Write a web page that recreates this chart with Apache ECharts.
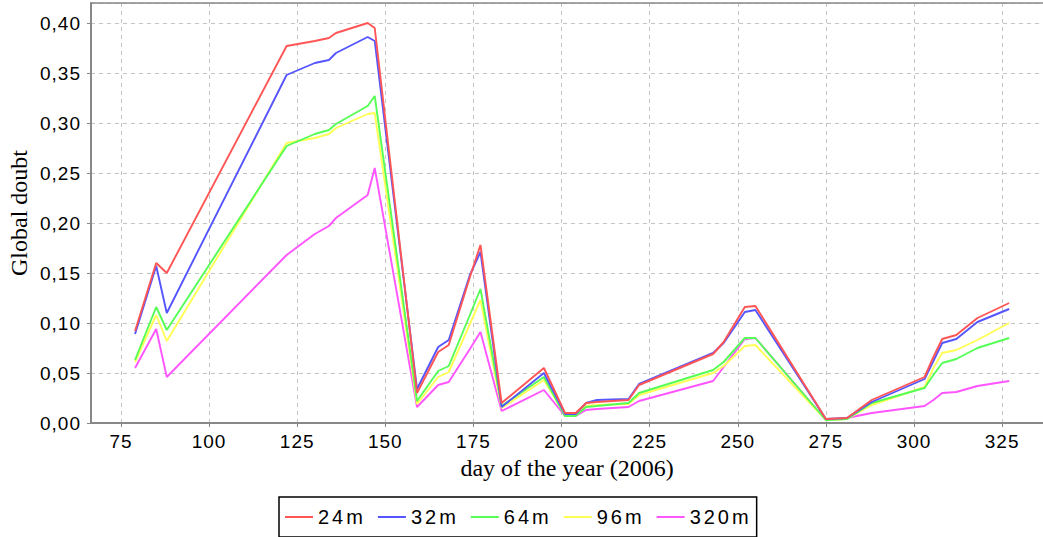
<!DOCTYPE html>
<html>
<head>
<meta charset="utf-8">
<script src="https://cdn.jsdelivr.net/npm/echarts@6/dist/echarts.min.js"></script>
<style>
  html, body { margin: 0; padding: 0; background: #ffffff; }
  #chart { width: 1043px; height: 537px; }
  /* slightly tracked sans-serif lettering for ticks and legend */
  #chart svg text[style*="19px"] { letter-spacing: 1px; }
  #chart svg text[style*="20px"] { letter-spacing: 3px; }
</style>
</head>
<body>
<div id="chart"></div>
<script>
// Sampling days (day of the year, 2006)
const days = [79, 85, 88, 122, 130, 134, 136, 145, 147, 159, 165, 168, 174, 177, 183, 195,
  201, 204, 207, 210, 219, 222, 243, 246, 252, 255, 275, 281, 288, 303, 305.5, 308, 312, 318, 327];

// Global doubt per resolution
const doubt24 = [0.092, 0.160, 0.150, 0.377, 0.382, 0.385, 0.390, 0.400, 0.395, 0.030, 0.071, 0.078, 0.146, 0.178, 0.020, 0.055,
  0.010, 0.010, 0.020, 0.021, 0.023, 0.038, 0.069, 0.081, 0.116, 0.117, 0.004, 0.005, 0.023, 0.046, 0.066, 0.084, 0.088, 0.105, 0.120];
const doubt32 = [0.089, 0.157, 0.110, 0.348, 0.360, 0.363, 0.370, 0.386, 0.382, 0.034, 0.076, 0.083, 0.148, 0.171, 0.016, 0.050,
  0.009, 0.009, 0.020, 0.023, 0.024, 0.039, 0.070, 0.080, 0.111, 0.113, 0.004, 0.005, 0.021, 0.044, 0.062, 0.080, 0.084, 0.101, 0.114];
const doubt64 = [0.063, 0.116, 0.093, 0.277, 0.289, 0.293, 0.299, 0.317, 0.327, 0.022, 0.052, 0.057, 0.108, 0.134, 0.017, 0.046,
  0.007, 0.007, 0.016, 0.017, 0.020, 0.030, 0.053, 0.061, 0.085, 0.085, 0.003, 0.004, 0.020, 0.035, 0.048, 0.060, 0.064, 0.075, 0.085];
const doubt96 = [0.061, 0.108, 0.082, 0.280, 0.285, 0.289, 0.295, 0.309, 0.310, 0.019, 0.046, 0.051, 0.099, 0.123, 0.015, 0.043,
  0.008, 0.008, 0.017, 0.018, 0.019, 0.028, 0.050, 0.057, 0.077, 0.078, 0.003, 0.004, 0.018, 0.036, 0.055, 0.070, 0.073, 0.083, 0.100];
const doubt320 = [0.055, 0.094, 0.046, 0.168, 0.189, 0.197, 0.205, 0.228, 0.255, 0.016, 0.038, 0.041, 0.074, 0.091, 0.012, 0.033,
  0.007, 0.007, 0.013, 0.014, 0.016, 0.022, 0.042, 0.056, 0.084, 0.085, 0.003, 0.005, 0.010, 0.017, 0.023, 0.030, 0.031, 0.037, 0.042];

const seriesNames = ['24m', '32m', '64m', '96m', '320m'];
const seriesValues = [doubt24, doubt32, doubt64, doubt96, doubt320];
const seriesColors = ['#ff5555', '#5555ff', '#55ff55', '#ffff55', '#ff55ff'];

// Tick labels
const xTicks = [75, 100, 125, 150, 175, 200, 225, 250, 275, 300, 325];

const axisGray = '#888888';
const gridGray = '#c4c4c4';
const tickFont = 'Liberation Sans';
const titleFont = 'Liberation Serif';

const chart = echarts.init(document.getElementById('chart'), null, { renderer: 'svg' });

const series = seriesNames.map((name, i) => ({
  name: name,
  type: 'line',
  symbol: 'none',
  // first series is painted on top
  z: 10 - i,
  data: days.map((d, j) => [d, seriesValues[i][j]]),
  lineStyle: { color: seriesColors[i], width: 1.9 },
  itemStyle: { color: seriesColors[i] },
  emphasis: { disabled: true },
  animation: false
}));

chart.setOption({
  backgroundColor: '#ffffff',
  animation: false,
  grid: { left: 91, top: 3, right: 0, bottom: 114, containLabel: false, outerBoundsMode: 'none' },
  xAxis: [{
    type: 'value',
    min: 66.5,
    max: 336.6,
    name: 'day of the year (2006)',
    nameLocation: 'middle',
    nameGap: 33,
    nameMoveOverlap: false,
    nameTextStyle: { fontFamily: titleFont, fontSize: 24, color: '#000' },
    axisLine: { show: true, onZero: false, lineStyle: { color: axisGray, width: 2 } },
    axisTick: { show: true, length: 4, customValues: xTicks, lineStyle: { color: axisGray, width: 1 } },
    axisLabel: { customValues: xTicks, margin: 9, fontFamily: tickFont, fontSize: 19, color: '#000' },
    splitLine: { show: true, lineStyle: { color: gridGray, type: [4, 4], width: 1 } }
  }, {
    type: 'value',
    position: 'top',
    min: 66.5,
    max: 336.6,
    axisLine: { show: true, onZero: false, lineStyle: { color: axisGray, width: 1.5 } },
    axisTick: { show: false },
    axisLabel: { show: false },
    splitLine: { show: false }
  }],
  yAxis: {
    type: 'value',
    min: 0,
    max: 0.42,
    interval: 0.05,
    name: 'Global doubt',
    nameLocation: 'middle',
    nameGap: 60,
    nameRotate: 90,
    nameMoveOverlap: false,
    nameTextStyle: { fontFamily: titleFont, fontSize: 24, color: '#000' },
    axisLine: { show: true, lineStyle: { color: axisGray, width: 2 } },
    axisTick: { show: true, length: 4, lineStyle: { color: axisGray, width: 1 } },
    axisLabel: {
      margin: 10,
      fontFamily: tickFont,
      fontSize: 19,
      color: '#000',
      showMaxLabel: false,
      formatter: v => v.toFixed(2).replace('.', ',')
    },
    splitLine: { show: true, lineStyle: { color: gridGray, type: [4, 4], width: 1 } }
  },
  legend: {
    data: seriesNames,
    left: 279,
    top: 497,
    orient: 'horizontal',
    icon: 'rect',
    padding: [10, 17, 10, 6],
    itemGap: 21,
    itemWidth: 28,
    itemHeight: 2,
    borderColor: '#000',
    borderWidth: 1.5,
    borderRadius: 0,
    textStyle: { fontFamily: tickFont, fontSize: 20, color: '#000' },
    selectedMode: false
  },
  series: series
});
</script>
</body>
</html>
